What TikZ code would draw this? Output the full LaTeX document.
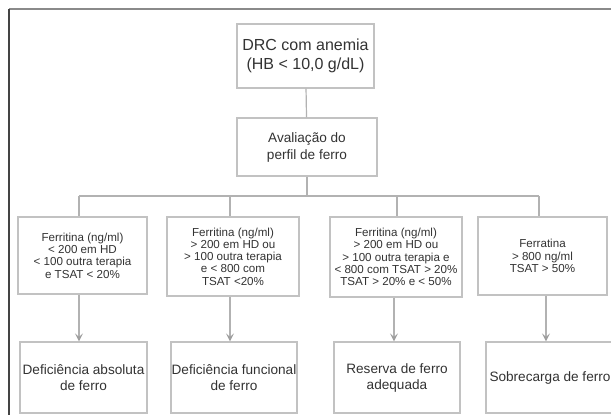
\documentclass[tikz,border=0pt]{standalone}
\usepackage{fontspec}
\setmainfont{Liberation Sans}
\usetikzlibrary{arrows.meta}
\definecolor{boxc}{HTML}{C2C2C2}
\definecolor{linec}{HTML}{B2B2B2}
\definecolor{arrc}{HTML}{9E9E9E}
\definecolor{txtc}{HTML}{333333}
\definecolor{frametop}{HTML}{8A8A8A}
\definecolor{frameleft}{HTML}{444444}
\begin{document}
\begin{tikzpicture}[x=1pt,y=-1pt,
  box/.style={draw=boxc, line width=1.2pt, rectangle, inner sep=0pt, align=center, text=txtc},
  bigtxt/.style={font=\fontsize{16}{19}\selectfont},
  midtxt/.style={font=\fontsize{13.6}{17}\selectfont},
  smalltxt/.style={font=\fontsize{11.6}{12.3}\selectfont},
  bottxt/.style={font=\fontsize{13.6}{16}\selectfont},
  conn/.style={draw=linec, line width=1.2pt},
  arr/.style={draw=linec, line width=1.2pt, -{Stealth[length=8pt,width=8pt,inset=3.5pt,color=arrc]}}]
\useasboundingbox (0,0) rectangle (611,415);
\clip (0,0) rectangle (611,415);
\fill[white] (0,0) rectangle (611,415);
% frame
\draw[frametop, line width=1.6pt] (9,9) -- (611,9);
\draw[frameleft, line width=1.4pt] (9,9) -- (9,415);
% nodes
\node[box, bigtxt, minimum width=137pt, minimum height=64pt] (top) at (305.5,56) {DRC com anemia\\(HB < 10,0 g/dL)};
\node[box, midtxt, minimum width=140pt, minimum height=58pt] (aval) at (307,147) {Avaliação do\\perfil de ferro};
\node[box, smalltxt, minimum width=129pt, minimum height=77pt] (b1) at (82.5,255.5) {Ferritina (ng/ml)\\< 200 em HD\\< 100 outra terapia\\e TSAT < 20\%};
\node[box, smalltxt, minimum width=132pt, minimum height=79pt] (b2) at (233,256.5) {Ferritina (ng/ml)\\> 200 em HD ou\\> 100 outra terapia\\e < 800 com\\TSAT <20\%};
\node[box, smalltxt, minimum width=132pt, minimum height=80pt] (b3) at (396,257) {Ferritina (ng/ml)\\> 200 em HD ou\\> 100 outra terapia e\\< 800 com TSAT > 20\%\\TSAT > 20\% e < 50\%};
\node[box, smalltxt, minimum width=129pt, minimum height=78pt] (b4) at (542.5,256) {Ferratina\\> 800 ng/ml\\TSAT > 50\%};
\node[box, bottxt, minimum width=127pt, minimum height=71pt] (b5) at (83.5,377.5) {Deficiência absoluta\\de ferro};
\node[box, bottxt, minimum width=126pt, minimum height=71pt] (b6) at (234,377.5) {Deficiência funcional\\de ferro};
\node[box, bottxt, minimum width=126pt, minimum height=71pt] (b7) at (397,377.5) {Reserva de ferro\\adequada};
\node[box, bottxt, minimum width=128pt, minimum height=71pt] (b8) at (550,377.5) {Sobrecarga de ferro};
% branch coordinates
\coordinate (hm) at (307,196);
\coordinate (h1) at (79,196);
\coordinate (h2) at (230,196);
\coordinate (h3) at (397,196);
\coordinate (h4) at (539,196);
\coordinate (a1) at (79,320);
\coordinate (a2) at (230,320);
\coordinate (a3) at (394,320);
\coordinate (a4) at (546,320);
% connectors
\draw[conn] (top) -- (aval);
\draw[conn] (aval) -- (hm);
\draw[conn] (h1) -- (h4);
\draw[conn] (h1) -- (h1 |- b1.north);
\draw[conn] (h2) -- (h2 |- b2.north);
\draw[conn] (h3) -- (h3 |- b3.north);
\draw[conn] (h4) -- (h4 |- b4.north);
\draw[arr] (b1.south -| a1) -- (b5.north -| a1);
\draw[arr] (b2.south -| a2) -- (b6.north -| a2);
\draw[arr] (b3.south -| a3) -- (b7.north -| a3);
\draw[arr] (b4.south -| a4) -- (b8.north -| a4);
\end{tikzpicture}
\end{document}
